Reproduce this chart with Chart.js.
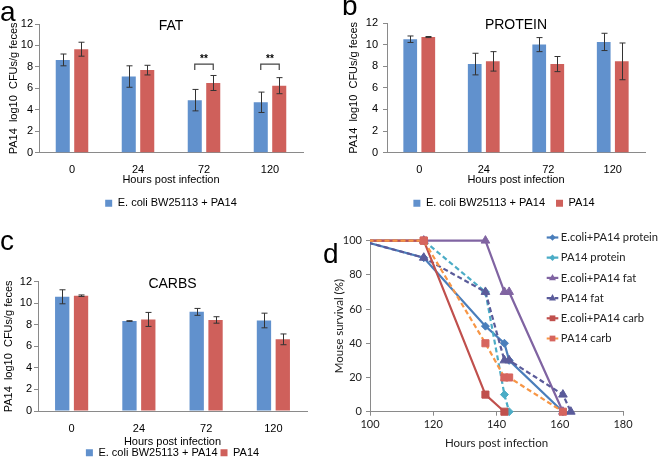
<!DOCTYPE html>
<html>
<head>
<meta charset="utf-8">
<script src="https://cdn.jsdelivr.net/npm/chart.js@4.4.0/dist/chart.umd.min.js"></script>
<style>
  html, body { margin: 0; padding: 0; background: #fff; }
  body { width: 660px; height: 467px; position: relative; overflow: hidden; }
  canvas { position: absolute; }
</style>
</head>
<body>
<canvas id="chartFat" width="330" height="230" style="left:0;top:0"></canvas>
<canvas id="chartProtein" width="330" height="230" style="left:330px;top:0"></canvas>
<canvas id="chartCarbs" width="330" height="239" style="left:0;top:230px"></canvas>
<canvas id="chartSurvival" width="340" height="237" style="left:320px;top:230px"></canvas>
<script>
// bar panels: PA14 log10 CFUs/g feces, mean and error
const hourLabels = ['0', '24', '72', '120'];
const fatEcoli = [8.65, 7.1, 4.9, 4.7];
const fatEcoliErr = [0.55, 1.0, 1.0, 0.95];
const fatPA14 = [9.65, 7.7, 6.5, 6.25];
const fatPA14Err = [0.65, 0.45, 0.7, 0.75];
const proteinEcoli = [10.5, 8.2, 10.0, 10.25];
const proteinEcoliErr = [0.3, 1.0, 0.65, 0.8];
const proteinPA14 = [10.7, 8.45, 8.2, 8.45];
const proteinPA14Err = [0.05, 0.9, 0.7, 1.7];
const carbsEcoli = [10.6, 8.35, 9.2, 8.4];
const carbsEcoliErr = [0.65, 0.03, 0.32, 0.68];
const carbsPA14 = [10.7, 8.5, 8.45, 6.65];
const carbsPA14Err = [0.07, 0.65, 0.3, 0.5];
const fatSigIndex = [2, 3];

// survival panel: hours post infection / % surviving
const survNames = ['E.coli+PA14 protein', 'PA14 protein', 'E.coli+PA14 fat', 'PA14 fat', 'E.coli+PA14 carb', 'PA14 carb'];
const ecoliProteinHours = [97, 117, 136.5, 142.5, 144, 161];
const ecoliProteinSurv = [100, 90, 50, 40, 30, 0];
const pa14ProteinHours = [97, 117, 136.5, 142.5, 144];
const pa14ProteinSurv = [100, 100, 70, 10, 0];
const ecoliFatHours = [97, 117, 136.5, 142.5, 144, 161];
const ecoliFatSurv = [100, 100, 100, 70, 70, 0];
const pa14FatHours = [97, 117, 136.5, 142.5, 144, 161, 163.5];
const pa14FatSurv = [100, 90, 70, 30, 30, 10, 0];
const ecoliCarbHours = [97, 117, 136.5, 142.5];
const ecoliCarbSurv = [100, 100, 10, 0];
const pa14CarbHours = [97, 117, 136.5, 142.5, 144, 161];
const pa14CarbSurv = [100, 100, 40, 20, 20, 0];

const blue = '#6191cd';
const red = '#cf605b';
const axisGrey = '#8a8a8a';
const arial = 'Liberation Sans';
const calibri = 'Lato';

Chart.defaults.font.family = arial;
Chart.defaults.color = '#000';

const panelText = {
  id: 'panelText',
  afterDraw(chart, args, o) {
    const ctx = chart.ctx, a = chart.chartArea;
    ctx.save();
    ctx.fillStyle = '#000';
    if (o.letter) {
      ctx.font = '28px "' + arial + '"';
      ctx.textAlign = 'left';
      ctx.textBaseline = 'alphabetic';
      ctx.fillText(o.letter, o.lx, o.ly);
    }
    if (o.title) {
      ctx.font = '14px "' + arial + '"';
      ctx.textAlign = 'center';
      ctx.textBaseline = 'middle';
      ctx.fillText(o.title, (a.left + a.right) / 2 + (o.tdx || 0), a.top + o.tdy);
    }
    ctx.restore();
  }
};

const errorBars = {
  id: 'errorBars',
  afterDatasetsDraw(chart, args, o) {
    const ctx = chart.ctx, y = chart.scales.y;
    ctx.save();
    ctx.strokeStyle = '#333';
    ctx.lineWidth = 1;
    chart.data.datasets.forEach((ds, i) => {
      if (!ds.err) return;
      chart.getDatasetMeta(i).data.forEach((bar, j) => {
        const x = Math.round(bar.x) + 0.5;
        const t = y.getPixelForValue(ds.data[j] + ds.err[j]);
        const b = y.getPixelForValue(ds.data[j] - ds.err[j]);
        ctx.beginPath();
        ctx.moveTo(x, t); ctx.lineTo(x, b);
        ctx.moveTo(x - 3, t); ctx.lineTo(x + 3, t);
        ctx.moveTo(x - 3, b); ctx.lineTo(x + 3, b);
        ctx.stroke();
      });
    });
    if (o.sig) {
      const m0 = chart.getDatasetMeta(0).data, m1 = chart.getDatasetMeta(1).data;
      ctx.strokeStyle = '#444';
      ctx.lineWidth = 1.2;
      ctx.fillStyle = '#000';
      ctx.font = 'bold 10px "' + arial + '"';
      ctx.textAlign = 'center';
      ctx.textBaseline = 'middle';
      o.sig.forEach(j => {
        const x0 = m0[j].x, x1 = m1[j].x;
        const yl = y.getPixelForValue(o.level), yb = y.getPixelForValue(o.level - o.leg);
        ctx.beginPath();
        ctx.moveTo(x0, yb); ctx.lineTo(x0, yl); ctx.lineTo(x1, yl); ctx.lineTo(x1, yb);
        ctx.stroke();
        ctx.fillText(o.label, (x0 + x1) / 2, y.getPixelForValue(o.level + 0.45));
      });
    }
    ctx.restore();
  }
};

function barPanel(id, p) {
  const font = { family: arial, size: 11 };
  return new Chart(document.getElementById(id), {
    type: 'bar',
    data: {
      labels: hourLabels,
      datasets: [
        { label: 'E. coli BW25113 + PA14', data: p.ecoli, err: p.ecoliErr, backgroundColor: blue },
        { label: 'PA14', data: p.pa14, err: p.pa14Err, backgroundColor: red }
      ]
    },
    options: {
      responsive: false,
      animation: false,
      layout: { padding: p.pad },
      datasets: { bar: { categoryPercentage: 0.56, barPercentage: 0.76 } },
      plugins: {
        legend: {
          position: 'bottom',
          fullSize: p.legendFull,
          labels: { boxWidth: 7, boxHeight: 7, padding: p.legendPad, font: font, color: '#000', filter: p.legendFilter }
        },
        tooltip: { enabled: false },
        panelText: { letter: p.letter, lx: p.lx, ly: p.ly, title: p.title, tdx: 0, tdy: 2.5 },
        errorBars: p.sig || {}
      },
      scales: {
        x: {
          grid: { display: false },
          border: { color: axisGrey },
          ticks: { padding: p.xTickPad, font: font, color: '#000' },
          title: { display: true, text: 'Hours post infection', font: font, color: '#000', padding: { top: 0, bottom: p.xTitlePad } },
          afterFit: s => { s.height = p.xH; }
        },
        y: {
          min: 0, max: 12,
          ticks: { stepSize: 2, padding: p.yTickPad, font: font, color: '#000' },
          grid: { drawOnChartArea: false, tickLength: 4, color: axisGrey },
          border: { color: axisGrey },
          title: { display: true, text: 'PA14  log10  CFUs/g feces', font: font, color: '#000', padding: { top: p.yTitlePad, bottom: 0 } },
          afterFit: s => { s.width = p.yW; }
        }
      }
    },
    plugins: [panelText, errorBars]
  });
}

barPanel('chartFat', {
  ecoli: fatEcoli, ecoliErr: fatEcoliErr, pa14: fatPA14, pa14Err: fatPA14Err,
  pad: { left: 0, right: 27, top: 24, bottom: 11.3 }, yW: 39, yTitlePad: 7.4, yTickPad: 2,
  xH: 34, xTickPad: 3, xTitlePad: 0, legendPad: 11, legendFull: false,
  legendFilter: item => item.datasetIndex === 0,
  letter: 'a', lx: 0, ly: 21, title: 'FAT',
  sig: { sig: fatSigIndex, level: 8.25, leg: 0.55, label: '**' }
});

barPanel('chartProtein', {
  ecoli: proteinEcoli, ecoliErr: proteinEcoliErr, pa14: proteinPA14, pa14Err: proteinPA14Err,
  pad: { left: 33, right: 15, top: 23, bottom: 11.3 }, yW: 24, yTitlePad: -16.1, yTickPad: 5,
  xH: 34, xTickPad: 3, xTitlePad: 0, legendPad: 11, legendFull: true,
  letter: 'b', lx: 12, ly: 15, title: 'PROTEIN'
});

barPanel('chartCarbs', {
  ecoli: carbsEcoli, ecoliErr: carbsEcoliErr, pa14: carbsPA14, pa14Err: carbsPA14Err,
  pad: { left: 0, right: 23, top: 51.7, bottom: 0.8 }, yW: 38, yTitlePad: 2.4, yTickPad: 2,
  xH: 33.2, xTickPad: 3, xTitlePad: -4.1, legendPad: 3, legendFull: false,
  letter: 'c', lx: 0, ly: 20, title: 'CARBS'
});

// survival curves
const survLegend = {
  id: 'survLegend',
  afterDraw(chart, args, o) {
    const ctx = chart.ctx;
    ctx.save();
    chart.data.datasets.forEach((ds, i) => {
      const y = o.y + i * o.dy;
      ctx.strokeStyle = ds.borderColor;
      ctx.lineWidth = ds.borderWidth;
      ctx.setLineDash(ds.borderDash || []);
      ctx.beginPath();
      ctx.moveTo(o.x, y); ctx.lineTo(o.x + o.len, y);
      ctx.stroke();
      ctx.setLineDash([]);
      drawMarker(ctx, ds.pointStyle, o.x + o.len / 2, y, ds.pointRadius * 0.8, ds.pointBackgroundColor);
      ctx.fillStyle = '#222';
      ctx.font = '11.2px "' + calibri + '"';
      ctx.textAlign = 'left';
      ctx.textBaseline = 'middle';
      ctx.fillText(ds.label, o.x + o.len + 2.5, y);
    });
    // panel letter
    ctx.fillStyle = '#000';
    ctx.font = '28px "' + arial + '"';
    ctx.textBaseline = 'alphabetic';
    ctx.fillText('d', 3, 33);
    ctx.restore();
  }
};

function drawMarker(ctx, style, x, y, r, color) {
  ctx.fillStyle = color;
  ctx.beginPath();
  if (style === 'rectRot') {
    ctx.moveTo(x, y - r); ctx.lineTo(x + r, y); ctx.lineTo(x, y + r); ctx.lineTo(x - r, y);
  } else if (style === 'triangle') {
    ctx.moveTo(x, y - r); ctx.lineTo(x + r * 0.87, y + r * 0.6); ctx.lineTo(x - r * 0.87, y + r * 0.6);
  } else {
    const h = r * 0.72;
    ctx.rect(x - h, y - h, 2 * h, 2 * h);
  }
  ctx.closePath();
  ctx.fill();
}

function pts(xs, ys) {
  return xs.map((x, i) => ({ x: x, y: ys[i] }));
}

const survColors = ['#4a7ebb', '#4bacc6', '#8064a2', '#5a5b9a', '#c0504d', '#f79646'];
const survMarkerColors = ['#4a7ebb', '#4bacc6', '#8064a2', '#5a5b9a', '#c0504d', '#d6655e'];
const survStyles = ['rectRot', 'rectRot', 'triangle', 'triangle', 'rect', 'rect'];
const survDashed = [false, true, false, true, false, true];
const survData = [
  pts(ecoliProteinHours, ecoliProteinSurv),
  pts(pa14ProteinHours, pa14ProteinSurv),
  pts(ecoliFatHours, ecoliFatSurv),
  pts(pa14FatHours, pa14FatSurv),
  pts(ecoliCarbHours, ecoliCarbSurv),
  pts(pa14CarbHours, pa14CarbSurv)
];

const dFont = { family: calibri, size: 11.5 };
new Chart(document.getElementById('chartSurvival'), {
  type: 'line',
  data: {
    datasets: survNames.map((name, i) => ({
      label: name,
      data: survData[i],
      borderColor: survColors[i],
      borderWidth: 2.2,
      borderDash: survDashed[i] ? [5, 3] : [],
      pointStyle: survStyles[i],
      pointRadius: survStyles[i] === 'rectRot' ? 4 : 5,
      pointBackgroundColor: survMarkerColors[i],
      pointBorderColor: survMarkerColors[i],
      pointBorderWidth: 1,
      tension: 0,
      order: 6 - i,
      clip: { left: 0, top: 8, right: 8, bottom: 8 }
    }))
  },
  options: {
    responsive: false,
    animation: false,
    layout: { padding: { left: 0, right: 37, top: 6.7, bottom: 16.8 } },
    plugins: {
      legend: { display: false },
      tooltip: { enabled: false },
      survLegend: { x: 226.7, y: 7.5, dy: 20.2, len: 11.6 }
    },
    scales: {
      x: {
        type: 'linear', min: 100, max: 180,
        ticks: { stepSize: 20, padding: 2, font: { family: calibri, size: 11 }, color: '#222' },
        grid: { drawOnChartArea: false, tickLength: 4, color: axisGrey },
        border: { color: axisGrey },
        title: { display: true, text: 'Hours post infection', font: dFont, color: '#222', padding: 0 },
        afterFit: s => { s.height = 38.5; }
      },
      y: {
        min: 0, max: 100,
        ticks: { stepSize: 20, padding: 4, font: { family: calibri, size: 11 }, color: '#222' },
        grid: { drawOnChartArea: false, tickLength: 4, color: axisGrey },
        border: { color: axisGrey },
        title: { display: true, text: 'Mouse survival (%)', font: dFont, color: '#222', padding: { top: 12.8, bottom: 0 } },
        afterFit: s => { s.width = 50; }
      }
    }
  },
  plugins: [survLegend]
});
</script>
</body>
</html>
